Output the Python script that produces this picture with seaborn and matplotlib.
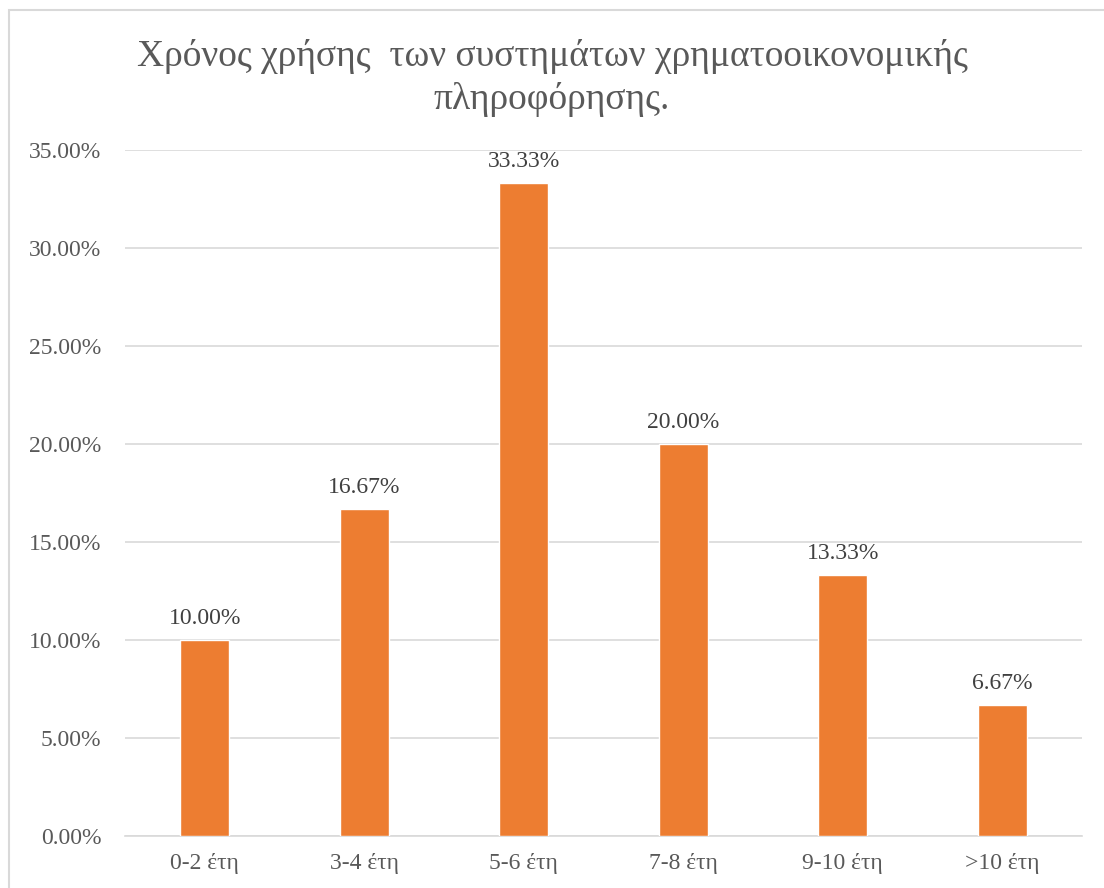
import matplotlib
matplotlib.use("Agg")
import matplotlib.pyplot as plt
import seaborn as sns
import pandas as pd
from matplotlib.patches import Rectangle

categories = ["0-2 έτη", "3-4 έτη", "5-6 έτη", "7-8 έτη", "9-10 έτη", ">10 έτη"]
values = [10.00, 16.67, 33.33, 20.00, 13.33, 6.67]
yticks = [0, 5, 10, 15, 20, 25, 30, 35]
title = "Χρόνος χρήσης  των συστημάτων χρηματοοικονομικής\nπληροφόρησης."

sns.set_theme(style="white")
plt.rcParams['font.family'] = ['Liberation Serif', 'DejaVu Serif']

df = pd.DataFrame({"cat": categories, "val": values})

fig = plt.figure(figsize=(11.04, 8.88), dpi=100)
ax = fig.add_axes([125/1104, 1-836/888, (1082-125)/1104, (836-150)/888])
sns.barplot(data=df, x="cat", y="val", color="#ED7D31", saturation=1, width=0.31, ax=ax, zorder=3)
ax.set_ylim(0, 35)
ax.set_yticks(yticks)
ax.set_yticklabels([f"{t:.2f}%" for t in yticks], fontsize=17, color="#595959")
ax.set_xticklabels(categories, fontsize=17, color="#595959")
ax.set_xlabel("")
ax.set_ylabel("")
ax.grid(axis="y", color="#D9D9D9", linewidth=1.2, zorder=0)
for s in ["top", "right", "left"]:
    ax.spines[s].set_visible(False)
ax.spines["bottom"].set_color("#D9D9D9")
ax.spines["bottom"].set_linewidth(1.2)
ax.tick_params(axis="x", length=0, pad=12)
ax.tick_params(axis="y", length=0, pad=17)
for c in ax.containers:
    ax.bar_label(c, labels=[f"{v:.2f}%" for v in values], fontsize=17, color="#404040", padding=8)

fig.text(0.5, 1-78/888, title, ha="center", va="center", fontsize=27, color="#595959", linespacing=1.3)
fig.patches.append(Rectangle((9/1104, -0.01), 1.2, 1-10/888+0.01, transform=fig.transFigure,
                             fill=False, edgecolor="#D9D9D9", linewidth=1.5))
fig.savefig("out.png", dpi=100)
